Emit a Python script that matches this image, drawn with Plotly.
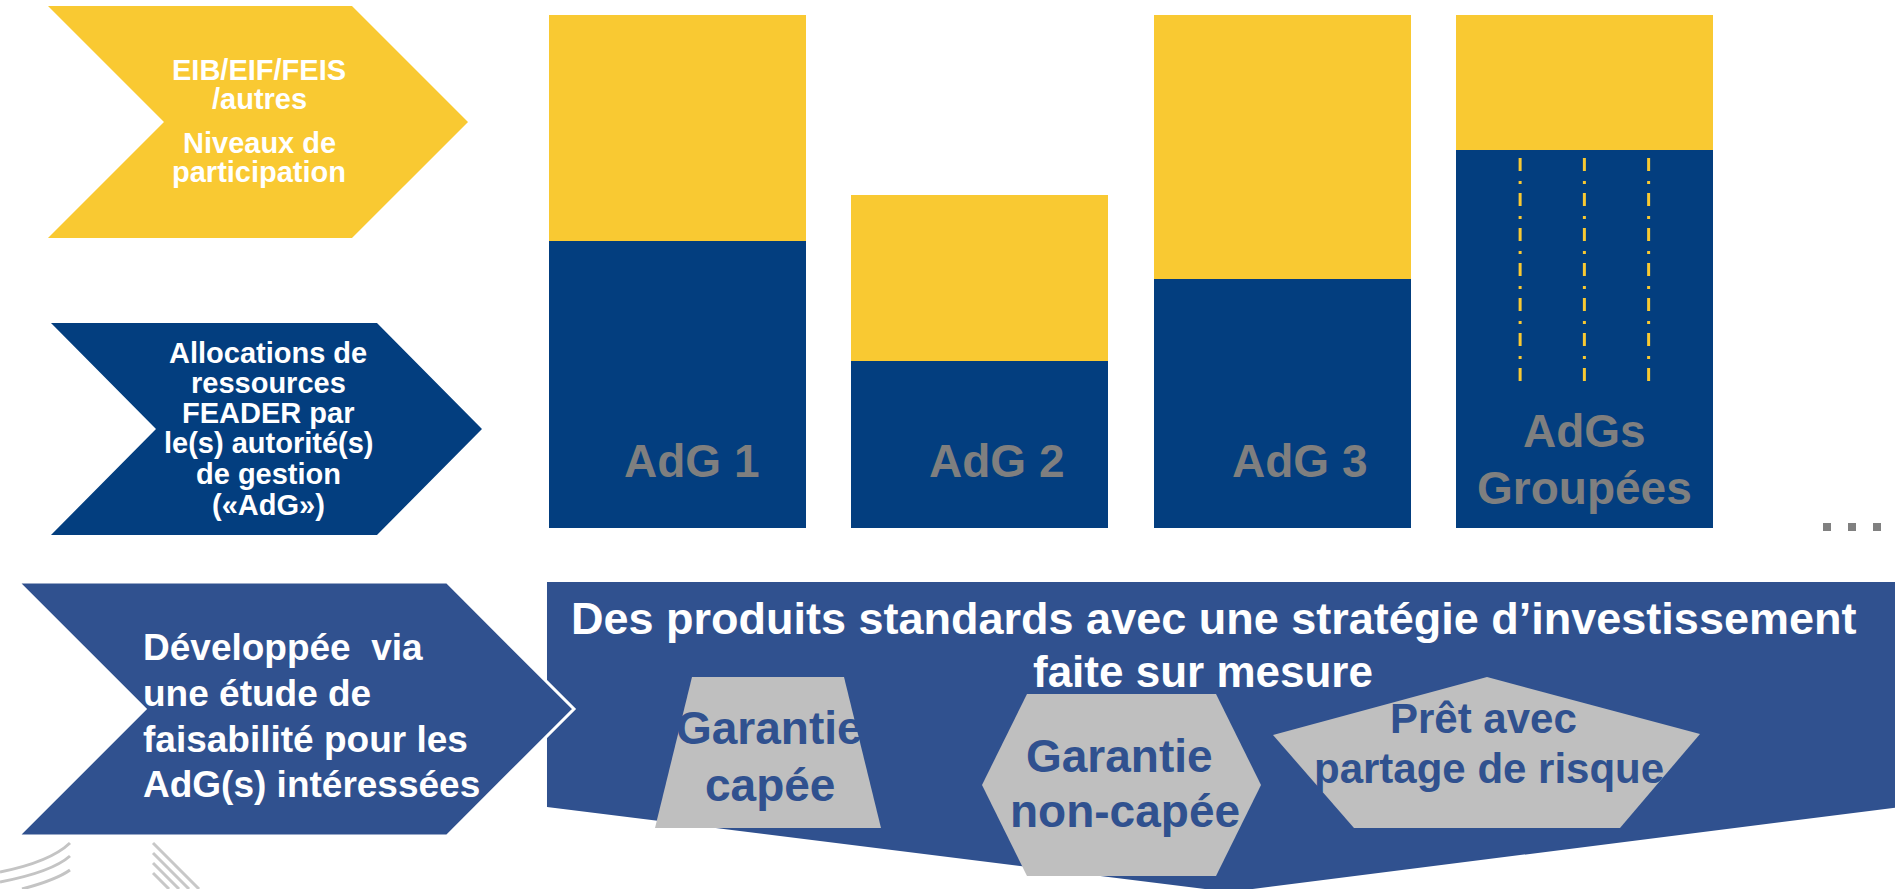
import plotly.graph_objects as go

W, H = 1895, 889

# ---------------- data ----------------
categories = ["AdG 1", "AdG 2", "AdG 3", "AdGs Groupées"]
feader_alloc = [55.9, 32.5, 48.5, 73.6]      # dark-blue part (AdG allocations)
eib_participation = [44.1, 32.4, 51.5, 26.4]  # yellow part (EIB/EIF/FEIS/autres)
bar_label_lines = [["AdG 1"], ["AdG 2"], ["AdG 3"], ["AdGs", "Groupées"]]

yellow_chevron_text = ["EIB/EIF/FEIS", "/autres", "Niveaux de", "participation"]
blue_chevron_text = ["Allocations de", "ressources", "FEADER par",
                     "le(s) autorité(s)", "de gestion", "(«AdG»)"]
bottom_chevron_text = ["Développée\u00a0 via", "une étude de",
                       "faisabilité pour les", "AdG(s) intéressées"]
banner_text = ["Des produits standards avec une stratégie d’investissement",
               "faite sur mesure"]
product_text = [["Garantie", "capée"], ["Garantie", "non-capée"],
                ["Prêt avec", "partage de risque"]]

# ---------------- styles ----------------
YELLOW = "#F9C932"
DARK_BLUE = "#033E7F"
MID_BLUE = "#30518F"
SHAPE_GRAY = "#BFBFBF"
LABEL_GRAY = "#7F7F7F"
FONT = "Liberation Sans, Arial, Helvetica, sans-serif"


def X(p):
    return p / W


def Y(p):
    return 1 - p / H


def poly(points):
    s = "M " + " L ".join(f"{X(a):.5f},{Y(b):.5f}" for a, b in points) + " Z"
    return s


fig = go.Figure()
fig.add_trace(go.Bar(x=categories, y=feader_alloc, marker_color=DARK_BLUE,
                     marker_line_width=0, hoverinfo="skip"))
fig.add_trace(go.Bar(x=categories, y=eib_participation, marker_color=YELLOW,
                     marker_line_width=0, hoverinfo="skip"))

shapes = []
annotations = []

# banner (big arrow pointing down)
shapes.append(dict(type="path", xref="paper", yref="paper", layer="above",
                   path=poly([(547, 582), (1900, 582), (1900, 807), (1229, 892), (547, 807)]),
                   fillcolor=MID_BLUE, line=dict(width=0)))

# chevrons
shapes.append(dict(type="path", xref="paper", yref="paper", layer="above",
                   path=poly([(48, 6), (352, 6), (468, 122), (352, 238), (48, 238), (164, 122)]),
                   fillcolor=YELLOW, line=dict(width=0)))
shapes.append(dict(type="path", xref="paper", yref="paper", layer="above",
                   path=poly([(51, 323), (377, 323), (482, 429), (377, 535), (51, 535), (156, 429)]),
                   fillcolor=DARK_BLUE, line=dict(width=0)))
shapes.append(dict(type="path", xref="paper", yref="paper", layer="above",
                   path=poly([(18, 582), (447, 582), (574, 709), (447, 836), (18, 836), (145, 709)]),
                   fillcolor=MID_BLUE, line=dict(color="white", width=3)))

# product shapes
shapes.append(dict(type="path", xref="paper", yref="paper", layer="above",
                   path=poly([(692, 677), (844, 677), (881, 828), (655, 828)]),
                   fillcolor=SHAPE_GRAY, line=dict(width=0)))
shapes.append(dict(type="path", xref="paper", yref="paper", layer="above",
                   path=poly([(1027, 694), (1216, 694), (1261, 785), (1216, 876), (1027, 876), (982, 785)]),
                   fillcolor=SHAPE_GRAY, line=dict(width=0)))
shapes.append(dict(type="path", xref="paper", yref="paper", layer="above",
                   path=poly([(1487, 677), (1700, 734), (1620, 828), (1354, 828), (1273, 735)]),
                   fillcolor=SHAPE_GRAY, line=dict(width=0)))

# dash-dot separators inside the grouped bar
bar_w = 1 - 0.1497
for k in (1, 2, 3):
    xx = 3 + (k / 4 - 0.5) * bar_w
    shapes.append(dict(type="line", xref="x", yref="paper", layer="above",
                       x0=xx, x1=xx, y0=Y(158), y1=Y(381),
                       line=dict(color=YELLOW, width=3, dash="13px,10px,3px,9px")))

# "..." squares
for cx in (1827, 1852, 1877):
    shapes.append(dict(type="rect", xref="paper", yref="paper", layer="above",
                       x0=X(cx - 4), x1=X(cx + 4), y0=Y(531), y1=Y(523),
                       fillcolor="#808080", line=dict(width=0)))

# logo fragments (bottom-left)
for p in ["M 0,872 Q 50,862 70,843", "M 0,882 Q 52,872 70,856", "M 22,889 Q 56,880 70,870"]:
    out = []
    for t in p.split():
        if "," in t:
            a, b = t.split(",")
            out.append(f"{X(float(a)):.5f},{Y(float(b)):.5f}")
        else:
            out.append(t)
    shapes.append(dict(type="path", xref="paper", yref="paper", layer="above",
                       path=" ".join(out), line=dict(color="#C4C4C4", width=3)))
for off in (0, 10, 20, 30):
    shapes.append(dict(type="line", xref="paper", yref="paper", layer="above",
                       x0=X(153), y0=Y(843 + off), x1=X(153 + 46 - off), y1=Y(889),
                       line=dict(color="#C8C8C8", width=3)))


def txt(s, x, y, size, color, anchor="center", xref="paper", xshift=0):
    annotations.append(dict(text=s, x=x if xref != "paper" else X(x), y=Y(y),
                            xref=xref, yref="paper", xanchor=anchor, yanchor="middle",
                            showarrow=False, xshift=xshift,
                            font=dict(family=FONT, size=size, color=color, weight="bold")))


for s, yy in zip(yellow_chevron_text, [70, 99, 143, 172]):
    txt(s, 259, yy, 29, "white")
for s, yy in zip(blue_chevron_text, [353, 383, 413, 443, 474, 505]):
    txt(s, 268, yy, 29, "white")
for s, yy in zip(bottom_chevron_text, [647, 693, 739, 784]):
    txt(s, 141, yy, 37, "white", anchor="left")

txt(banner_text[0], 1213, 618, 45, "white")
txt(banner_text[1], 1203, 671, 44, "white")

prod_pos = [[(769, 728), (770, 785)], [(1119, 756), (1125, 811)], [(1483, 718), (1489, 768)]]
prod_size = [46, 46, 42]
for lines, pos, sz in zip(product_text, prod_pos, prod_size):
    for s, (xx, yy) in zip(lines, pos):
        txt(s, xx, yy, sz, MID_BLUE)

label_y = [[461], [461], [461], [431, 488]]
label_shift = [14, 17, 17, 0]
for cat, lines, ys, sh in zip(categories, bar_label_lines, label_y, label_shift):
    for s, yy in zip(lines, ys):
        txt(s, cat, yy, 46, LABEL_GRAY, xref="x", xshift=sh)

fig.update_layout(
    width=W, height=H, autosize=False,
    margin=dict(l=0, r=0, t=0, b=0),
    paper_bgcolor="white", plot_bgcolor="white",
    barmode="stack", bargap=0.1497, showlegend=False,
    xaxis=dict(domain=[526.5 / W, 1735.5 / W], range=[-0.5, 3.5], visible=False,
               type="category", fixedrange=True),
    yaxis=dict(domain=[1 - 528 / H, 1 - 14.5 / H], range=[0, 100], visible=False,
               fixedrange=True),
    shapes=shapes, annotations=annotations,
)

fig.write_html("out.html", config={"displayModeBar": False},
               post_script="document.body.style.margin='0px';")
